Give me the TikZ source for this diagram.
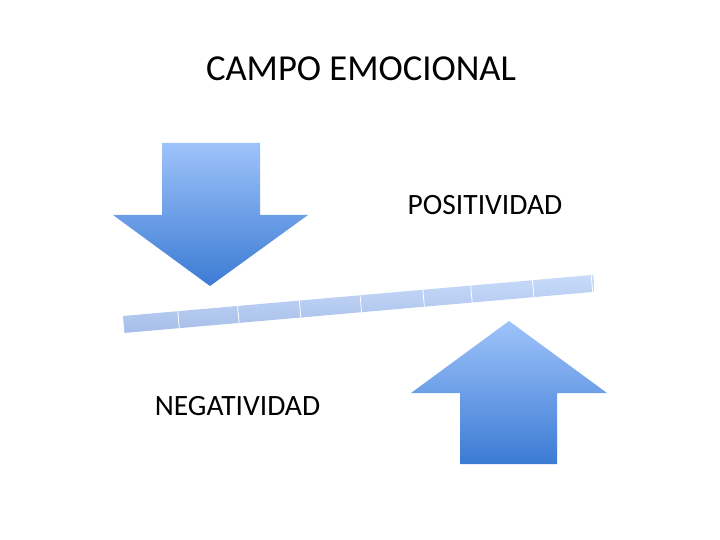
\documentclass[tikz,border=0pt]{standalone}
\usepackage{fontspec}
\setmainfont{Carlito}
\begin{document}
\begin{tikzpicture}[x=1pt,y=-1pt,
  bigarrow/.style={top color=arrowtop,bottom color=arrowbot,draw=none},
  label/.style={inner sep=0pt,font=\fontsize{29.5}{32}\selectfont},
  divider/.style={draw=white,line width=0.8pt}]
\definecolor{arrowtop}{HTML}{9EC3FA}
\definecolor{arrowbot}{HTML}{3C7BD4}
\definecolor{bartop}{HTML}{C8DBFA}
\definecolor{barbot}{HTML}{A6BEE8}
\useasboundingbox (0,0) rectangle (720,540);
% title
\node[inner sep=0pt,font=\fontsize{36.6}{40}\selectfont] (title) at (361,69) {CAMPO EMOCIONAL};
% down arrow
\path[bigarrow] (162,143) -- (260,143) -- (260,215) -- (308,215) -- (210,286) -- (113,215) -- (162,215) -- cycle;
% up arrow
\path[bigarrow] (509,321) -- (607,393) -- (557,393) -- (557,464) -- (460,464) -- (460,393) -- (411,393) -- cycle;
% bar
\begin{scope}[shift={(123,316)},rotate=5]
  \path[top color=bartop,bottom color=barbot,draw=none] (0,0) rectangle (472,17);
  \foreach \d in {55,115,177,238,301,349,411,470}
    \draw[divider] (\d,0) -- (\d,17);
\end{scope}
% labels
\node[label] (pos) at (485,205) {POSITIVIDAD};
\node[label] (neg) at (237.5,406.5) {NEGATIVIDAD};
\end{tikzpicture}
\end{document}
